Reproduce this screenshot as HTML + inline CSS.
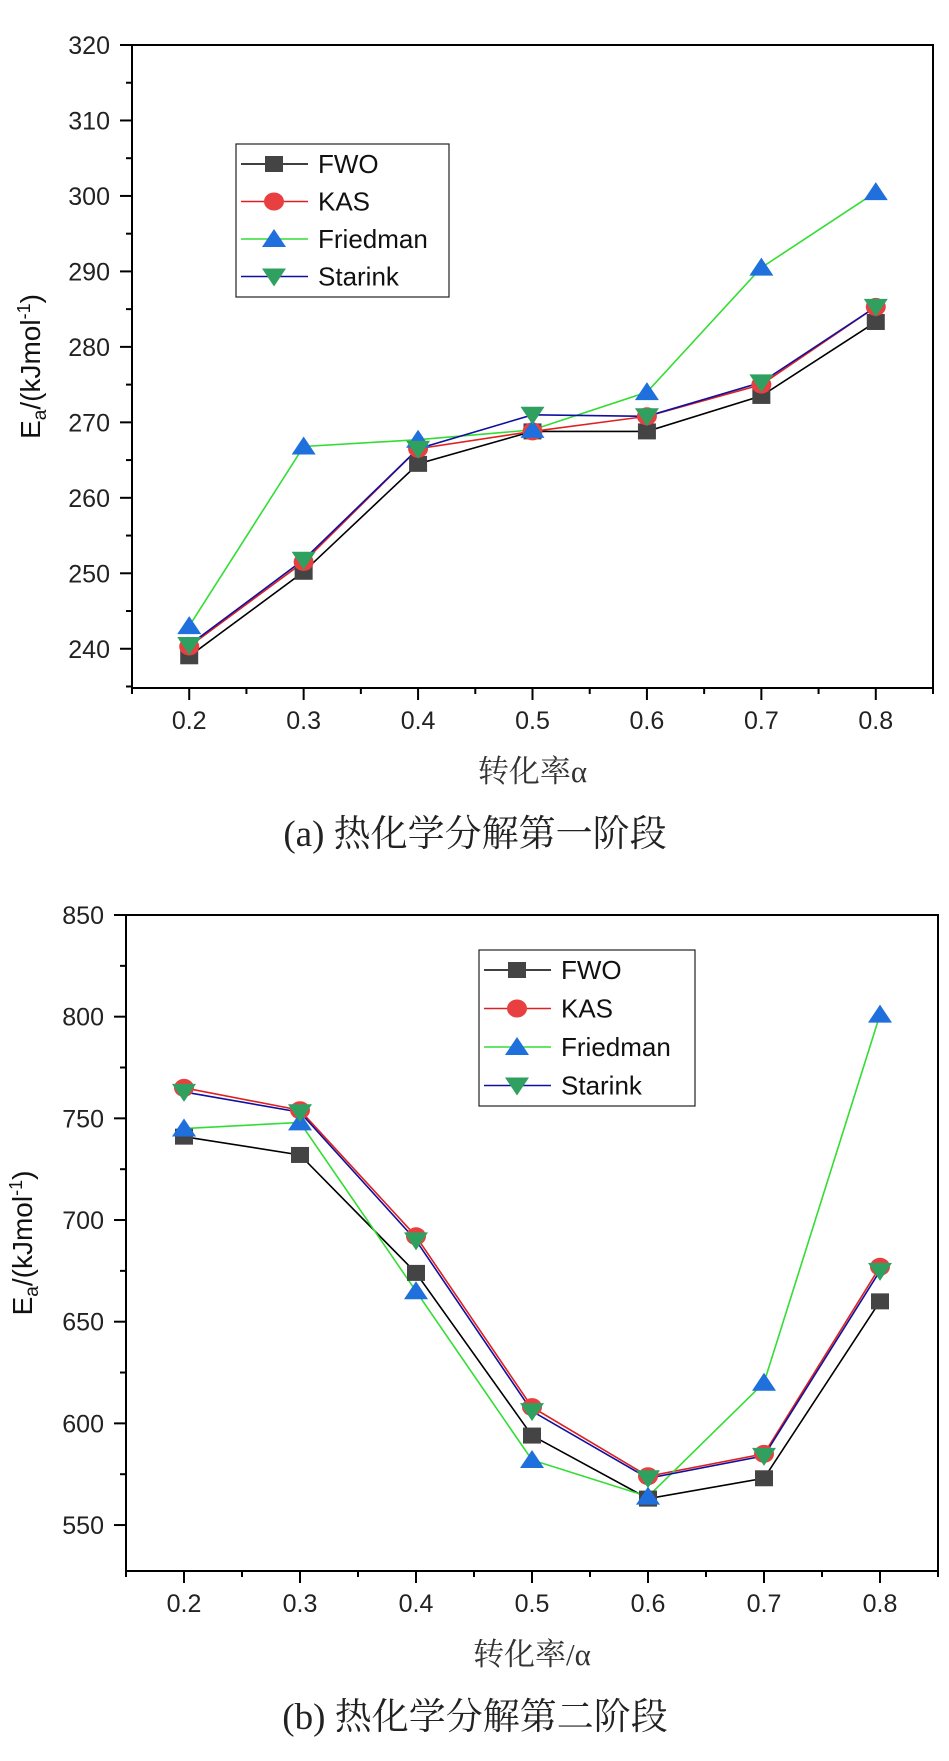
<!DOCTYPE html>
<html><head><meta charset="utf-8"><style>
body{margin:0;background:#fff;}
svg{display:block;}
</style></head><body>
<svg id="svg" width="949" height="1761" xmlns="http://www.w3.org/2000/svg"></svg>
<script>
const categories = [0.2,0.3,0.4,0.5,0.6,0.7,0.8];
const xTicks = ["0.2","0.3","0.4","0.5","0.6","0.7","0.8"];
const seriesNames = ["FWO","KAS","Friedman","Starink"];
const aFWO = [239,250.2,264.5,268.8,268.8,273.5,283.3];
const aKAS = [240.3,251.5,266.5,268.8,270.8,275,285.3];
const aFriedman = [243,266.8,267.7,269,274,290.5,300.5];
const aStarink = [240.5,251.8,266.5,271,270.8,275.3,285.3];
const aYTicks = [240,250,260,270,280,290,300,310,320];
const bFWO = [741,732,674,594,563,573,660];
const bKAS = [765,754,692,608,574,585,677];
const bFriedman = [745,748,665,582,564,620,801];
const bStarink = [763,753,690,606,573,584,675];
const bYTicks = [550,600,650,700,750,800,850];

const NS="http://www.w3.org/2000/svg";
const svg=document.getElementById('svg');
function mk(tag,attrs,parent){const e=document.createElementNS(NS,tag);for(const k in attrs)e.setAttribute(k,attrs[k]);(parent||svg).appendChild(e);return e;}
const lineCol=["#000","#e02020","#33dd33","#1010a0"];
const markCol=["#444","#e84040","#1f6fdc","#2fa060"];
const shapes=["square","circle","up","down"];

function marker(g,shape,cx,cy,col,name){
  let e;
  if(shape==="square"){e=mk('rect',{x:cx-9,y:cy-8,width:18,height:16,fill:col},g);}
  else if(shape==="circle"){e=mk('ellipse',{cx:cx,cy:cy,rx:10,ry:9,fill:col},g);}
  else if(shape==="up"){e=mk('polygon',{points:`${cx},${cy-10} ${cx+12},${cy+8} ${cx-12},${cy+8}`,fill:col},g);}
  else {e=mk('polygon',{points:`${cx},${cy+10} ${cx+12},${cy-8} ${cx-12},${cy-8}`,fill:col},g);}
  
  
}

function chart(cfg){
  const g=mk('g',{});
  
  
  const {L,R,T,B,xmin,xmax,ymin,ymax}=cfg;
  const X=v=>L+(v-xmin)/(xmax-xmin)*(R-L);
  const Y=v=>B-(v-ymin)/(ymax-ymin)*(B-T);
  const frame=mk('rect',{x:L,y:T,width:R-L,height:B-T,fill:'none',stroke:'#000','stroke-width':2},g);
  
  
  const step=cfg.yTicks[1]-cfg.yTicks[0];
  for(let v=cfg.yTicks[0]-step/2; v<=ymax+0.001; v+=step/2){
    if(v<ymin) continue;
    const major=cfg.yTicks.some(t=>Math.abs(t-v)<1e-6);
    mk('line',{x1:L-(major?12:6),x2:L,y1:Y(v),y2:Y(v),stroke:'#000','stroke-width':2},g);
  }
  cfg.yTicks.forEach(t=>{
    const tx=mk('text',{x:L-22,y:Y(t)+9,'text-anchor':'end','font-size':25,'font-family':'Liberation Sans, sans-serif',fill:'#222'},g);
    tx.textContent=t;
    
    
  });
  for(let v=0.15; v<=0.851; v+=0.05){
    const major=Math.abs(Math.round(v*10)-v*10)<1e-6;
    mk('line',{x1:X(v),x2:X(v),y1:B,y2:B+(major?12:6),stroke:'#000','stroke-width':2},g);
  }
  categories.forEach((c,i)=>{
    const tx=mk('text',{x:X(c),y:B+41,'text-anchor':'middle','font-size':25,'font-family':'Liberation Sans, sans-serif',fill:'#222'},g);
    tx.textContent=xTicks[i];
    
    
  });
  const yt=mk('text',{transform:`translate(${cfg.ytx},${(T+B)/2}) rotate(-90)`,'text-anchor':'middle','font-size':28,'font-family':'Liberation Sans, sans-serif',fill:'#111'},g);
  yt.innerHTML='E<tspan font-size="19" dy="6">a</tspan><tspan dy="-6">/(kJmol</tspan><tspan font-size="18" dy="-10">-1</tspan><tspan dy="10">)</tspan>';
  
  
  const xt=mk('text',{x:(L+R)/2,y:B+94,'text-anchor':'middle','font-size':31,'font-family':'Liberation Serif, Noto Serif CJK SC, serif',fill:'#333'},g);
  xt.textContent=cfg.xtitle;
  
  
  const cap=mk('text',{x:cfg.capx,y:B+158,'text-anchor':'middle','font-size':37,'font-family':'Liberation Serif, Noto Serif CJK SC, serif',fill:'#222'},g);
  cap.textContent=cfg.caption;
  
  
  cfg.series.forEach((s,si)=>{
    const pts=s.map((v,i)=>X(categories[i])+','+Y(v)).join(' ');
    const pl=mk('polyline',{points:pts,fill:'none',stroke:lineCol[si],'stroke-width':1.6},g);
    
    
  });
  cfg.series.forEach((s,si)=>{
    s.forEach((v,i)=>marker(g,shapes[si],X(categories[i]),Y(v),markCol[si],'point-'+seriesNames[si].toLowerCase()));
  });
  const lg=mk('g',{},g);
  
  
  const [lx,ly,lw,lh]=cfg.legend;
  mk('rect',{x:lx,y:ly,width:lw,height:lh,fill:'#fff',stroke:'#222','stroke-width':1.2},lg);
  seriesNames.forEach((n,i)=>{
    const cy=ly+20+i*cfg.lsp;
    mk('line',{x1:lx+5,x2:lx+72,y1:cy,y2:cy,stroke:lineCol[i],'stroke-width':1.6},lg);
    marker(lg,shapes[i],lx+38,cy,markCol[i],'legend-marker');
    const t=mk('text',{x:lx+82,y:cy+9,'font-size':26,'font-family':'Liberation Sans, sans-serif',fill:'#111'},lg);
    t.textContent=n;
    
    
  });
}

chart({name:'chart-a',L:132,R:933,T:45,B:688,xmin:0.15,xmax:0.85,ymin:234.8,ymax:320,yTicks:aYTicks,
  series:[aFWO,aKAS,aFriedman,aStarink],legend:[236,144,213,153],lsp:37.5,ytx:40,
  xtitle:'转化率α',caption:'(a) 热化学分解第一阶段',capx:475});
chart({name:'chart-b',L:126,R:938,T:915,B:1571,xmin:0.15,xmax:0.85,ymin:527.4,ymax:850,yTicks:bYTicks,
  series:[bFWO,bKAS,bFriedman,bStarink],legend:[479,950,216,156],lsp:38.5,ytx:32,
  xtitle:'转化率/α',caption:'(b) 热化学分解第二阶段',capx:475});
</script>
</body></html>
